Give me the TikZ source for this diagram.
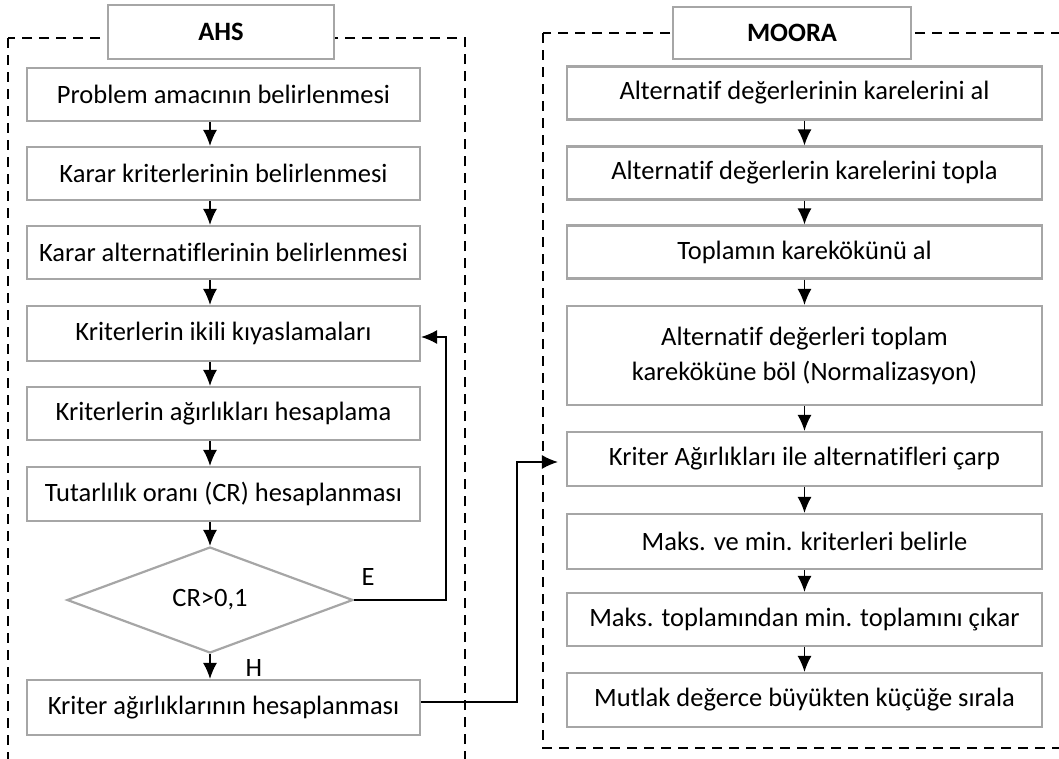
\documentclass[tikz,border=0pt]{standalone}
\usepackage{fontspec}
\setmainfont{Carlito}[Ligatures={NoCommon}]
\usetikzlibrary{arrows.meta,shapes.geometric,calc}
\definecolor{boxgray}{HTML}{A6A6A6}
\begin{document}
\begin{tikzpicture}[x=1pt,y=-1pt,
  txt/.style={font=\fontsize{26.5}{35}\selectfont},
  box/.style={txt,draw=boxgray,line width=2.2pt,fill=white,inner sep=0pt,align=center},
  lbox/.style={box,minimum width=393pt,minimum height=53pt},
  rbox/.style={box,minimum width=475pt,minimum height=53pt},
  hdr/.style={box,font=\fontsize{26.5}{35}\selectfont\bfseries},
  dia/.style={box,shape=diamond,minimum width=286pt,minimum height=106pt},
  dashbox/.style={draw=black,line width=2.6pt,dash pattern=on 10pt off 7pt},
  arr/.style={draw=black,line width=1.4pt,-{Latex[length=16pt,width=14pt]}}]
\useasboundingbox (0,0) rectangle (1059,758);
\clip (0,0) rectangle (1059,758);
% dashed frames
\draw[dashbox] (8,38) rectangle (465,800);
\draw[dashbox] (543,33) rectangle (1090,748);
% headers
\node[hdr,minimum width=226pt,minimum height=54pt] (hA) at (221,32) {AHS};
\node[hdr,minimum width=238pt,minimum height=52pt] (hM) at (792,33) {MOORA};
% left column
\node[lbox] (l1) at (223.5,94.5) {Problem amacının belirlenmesi};
\node[lbox] (l2) at (223.5,173.5) {Karar kriterlerinin belirlenmesi};
\node[lbox] (l3) at (223.5,252.5) {Karar alternatiflerinin belirlenmesi};
\node[lbox,minimum height=55pt] (l4) at (223.5,333.5) {Kriterlerin ikili kıyaslamaları};
\node[lbox] (l5) at (223.5,413.5) {Kriterlerin ağırlıkları hesaplama};
\node[lbox,minimum height=54pt] (l6) at (223.5,494) {Tutarlılık oranı (CR) hesaplanması};
\node[dia] (d) at (210,600) {CR>0,1};
\node[lbox,minimum height=55pt] (l7) at (223.5,707.5) {Kriter ağırlıklarının hesaplanması};
\node[txt] (lE) at (368,577) {E};
\node[txt] (lH) at (254,668) {H};
% right column
\node[rbox] (r1) at (804.5,93) {Alternatif değerlerinin karelerini al};
\node[rbox] (r2) at (804.5,173) {Alternatif değerlerin karelerini topla};
\node[rbox] (r3) at (804.5,252) {Toplamın karekökünü al};
\node[rbox,minimum height=99pt] (r4) at (804.5,355.5) {Alternatif değerleri toplam\\kareköküne böl (Normalizasyon)};
\node[rbox,minimum height=54pt] (r5) at (804.5,459) {Kriter Ağırlıkları ile alternatifleri çarp};
\node[rbox,minimum height=55pt] (r6) at (804.5,541.5) {Maks. ve min. kriterleri belirle};
\node[rbox] (r7) at (804.5,619.5) {Maks. toplamından min. toplamını çıkar};
\node[rbox,minimum height=54pt] (r8) at (804.5,700) {Mutlak değerce büyükten küçüğe sırala};
% left arrows
\draw[arr] (l1.south -| d.north) -- (l2.north -| d.north);
\draw[arr] (l2.south -| d.north) -- (l3.north -| d.north);
\draw[arr] (l3.south -| d.north) -- (l4.north -| d.north);
\draw[arr] (l4.south -| d.north) -- (l5.north -| d.north);
\draw[arr] (l5.south -| d.north) -- (l6.north -| d.north);
\draw[arr] (l6.south -| d.north) -- (d.north);
\draw[arr] (d.south) -- (l7.north -| d.south);
% right arrows
\draw[arr] (r1.south) -- (r2.north);
\draw[arr] (r2.south) -- (r3.north);
\draw[arr] (r3.south) -- (r4.north);
\draw[arr] (r4.south) -- (r5.north);
\draw[arr] (r5.south) -- (r6.north);
\draw[arr] (r6.south) -- (r7.north);
\draw[arr] (r7.south) -- (r8.north);
% feedback loop E
\coordinate (fe) at (446,337);
\draw[arr] (d.east) -- (d.east -| fe) -- (fe) -- (fe -| l4.east);
% link H -> MOORA
\coordinate (fh) at (517,462);
\coordinate (fh0) at (517,702);
\draw[arr,shorten >=8pt] (fh0 -| l7.east) -- (fh0) -- (fh) -- (fh -| r5.west);
\end{tikzpicture}
\end{document}
